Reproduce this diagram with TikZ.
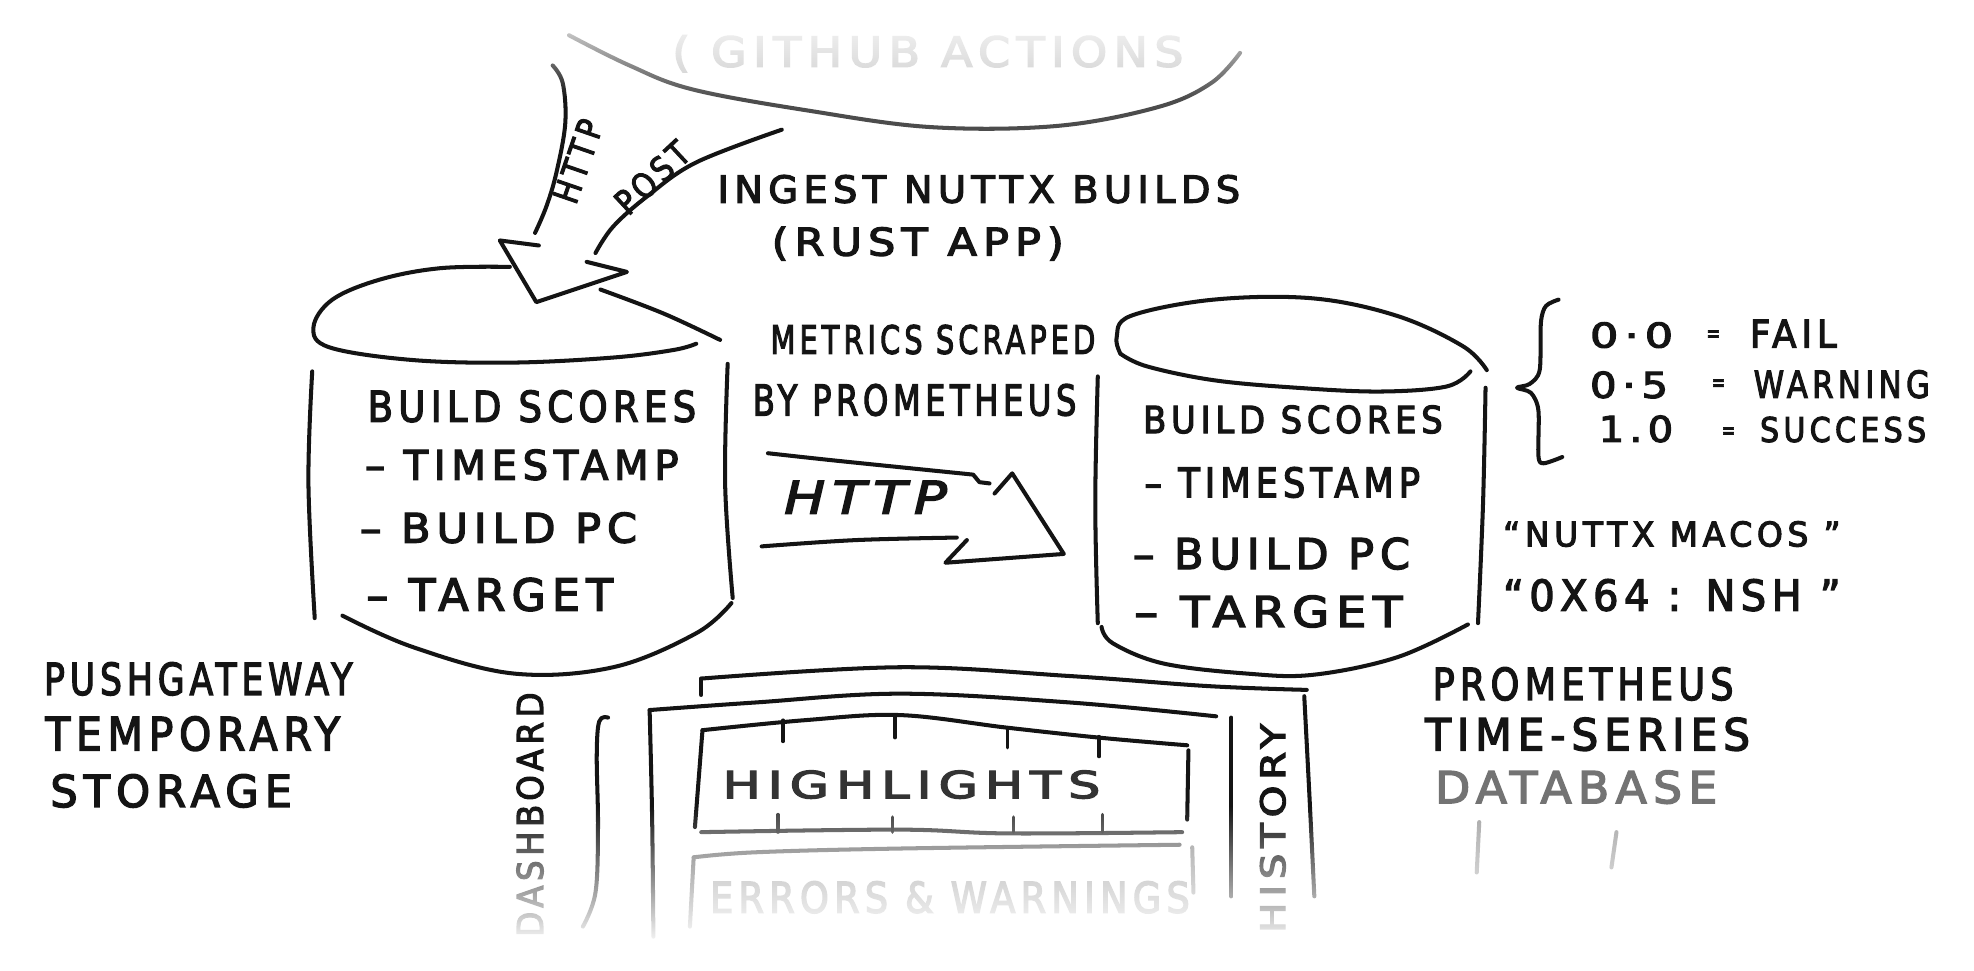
\documentclass[tikz,border=0pt]{standalone}
\usepackage{fontspec}
\usepackage{graphicx}
\usetikzlibrary{fadings}
\newfontfamily\hwf[LetterSpace=14, FakeBold=3.2]{DejaVu Sans}
\newcommand\hw[3]{\resizebox{#1pt}{#2pt}{\hwf #3}}
\definecolor{ink}{HTML}{141414}
\begin{document}
\begin{tikzpicture}[x=1pt,y=-1pt,
  sk/.style={line width=3.2pt, line cap=round, line join=round, draw=ink},
  txt/.style={inner sep=0pt, outer sep=0pt, anchor=base west, text=ink},
  rtxt/.style={inner sep=0pt, outer sep=0pt, anchor=center, text=ink}]
\useasboundingbox (0,0) rectangle (1568,771);
\clip (0,0) rectangle (1568,771);
\fill[white] (0,0) rectangle (1568,771);

% ---------- cloud (GitHub Actions) ----------
\draw[sk, draw=black!70] plot[smooth, tension=0.6] coordinates {(452,28) (500,52) (550,71) (643,88) (740,101) (840,100) (920,85) (962,66) (985,42)};
\node[txt, text=black!20] (gha) at (534,53) {\hw{406}{25}{( GITHUB ACTIONS}};

% ---------- HTTP POST block arrow ----------
\draw[sk] plot[smooth, tension=0.6] coordinates {(439,52) (447,66) (449,98) (442,137) (434,164) (425,185)};
\draw[sk] plot[smooth, tension=0.6] coordinates {(473,201) (487,180) (514,156) (553,129) (621,103)};
\draw[sk] (428,195) -- (397,191) -- (426,240) -- (498,216) -- (466,208);
\node[rtxt, rotate=71] (httpA) at (459,128) {\hw{68}{20}{HTTP}};
\node[rtxt, rotate=43] (postA) at (518,141) {\hw{70}{20}{POST}};

\node[txt] (ingest) at (570,161) {\hw{415}{22}{INGEST NUTTX BUILDS}};
\node[txt] (rust) at (613,203) {\hw{232}{23}{(RUST APP)}};

% ---------- left cylinder (Pushgateway) ----------
\draw[sk] plot[smooth, tension=0.6] coordinates {(405,212) (350,213) (302,222) (264,238) (249,260) (262,276) (328,286) (408,288) (487,284) (535,278) (553,273)};
\draw[sk] plot[smooth, tension=0.6] coordinates {(477,230) (527,249) (572,270)};
\draw[sk] plot[smooth, tension=0.6] coordinates {(248,295) (245,384) (250,491)};
\draw[sk] plot[smooth, tension=0.6] coordinates {(578,289) (576,385) (582,475)};
\draw[sk] plot[smooth, tension=0.6] coordinates {(272,489) (328,514) (408,535) (487,530) (553,503) (581,479)};
\node[txt] (lbs) at (292,335) {\hw{261}{25}{BUILD SCORES}};
\node[txt] (lts) at (290,381) {\hw{249}{24}{– TIMESTAMP}};
\node[txt] (lpc) at (286,431) {\hw{220}{24}{– BUILD PC}};
\node[txt] (ltg) at (291,485) {\hw{196}{26}{– TARGET}};

\node[txt] (pg1) at (35,552) {\hw{245}{26}{PUSHGATEWAY}};
\node[txt] (pg2) at (36,596) {\hw{234}{27}{TEMPORARY}};
\node[txt] (pg3) at (40,641) {\hw{192}{26}{STORAGE}};

% ---------- metrics scraped + HTTP arrow ----------
\node[txt] (ms1) at (612,281) {\hw{258}{23}{METRICS SCRAPED}};
\node[txt] (ms2) at (598,330) {\hw{257}{25}{BY PROMETHEUS}};
\draw[sk] plot[smooth, tension=0.6] coordinates {(610,360) (665,366) (773,377)} -- (778,383) -- (786,384);
\draw[sk] (790,392) -- (804,376) -- (845,440) -- (751,447) -- (768,429);
\draw[sk] plot[smooth, tension=0.6] coordinates {(605,434) (680,429) (760,427)};
\node[txt] (httpB) at (623,408) {\resizebox{129pt}{26pt}{\hwf\itshape HTTP}};

% ---------- right cylinder (Prometheus) ----------
\draw[sk] plot[smooth, tension=0.6] coordinates {(890,281) (887,268) (898,251) (964,238) (1043,237) (1110,251) (1162,275) (1181,294)};
\draw[sk] plot[smooth, tension=0.6] coordinates {(1168,295) (1149,307) (1096,311) (1030,308) (964,302) (911,291) (890,281)};
\draw[sk] plot[smooth, tension=0.6] coordinates {(872,299) (870,400) (872,495)};
\draw[sk] plot[smooth, tension=0.6] coordinates {(1180,308) (1178,400) (1174,495)};
\draw[sk] plot[smooth, tension=0.6] coordinates {(875,498) (884,511) (924,527) (990,535) (1043,536) (1110,522) (1166,496)};
\node[txt] (rbs) at (908,344) {\hw{238}{22}{BUILD SCORES}};
\node[txt] (rts) at (909,395) {\hw{219}{24}{– TIMESTAMP}};
\node[txt] (rpc) at (900,452) {\hw{220}{25}{– BUILD PC}};
\node[txt] (rtg) at (901,498) {\hw{213}{25}{– TARGET}};

\node[txt] (pr1) at (1138,556) {\hw{239}{26}{PROMETHEUS}};
\node[txt] (pr2) at (1132,596) {\hw{258}{26}{TIME-SERIES}};
\node[txt, text=black!55] (pr3) at (1140,638) {\hw{224}{26}{DATABASE}};
\draw[sk, draw=black!35] (1175,653) -- (1173,693);
\draw[sk, draw=black!35] (1284,661) -- (1280,689);

% ---------- brace + score values ----------
\draw[sk] plot[smooth, tension=0.5] coordinates {(1238,238) (1228,243) (1224,256) (1223,294) (1215,305) (1205,308) (1216,312) (1222,326) (1222,362) (1226,368) (1241,363)};
\node[txt] (v1) at (1263,276) {\hw{66}{20}{0·0}};
\node[rtxt] (e1) at (1361,267) {\resizebox{11pt}{9pt}{\hwf =}};
\node[txt] (w1) at (1390,276) {\hw{69}{22}{FAIL}};
\node[txt] (v2) at (1263,316) {\hw{62}{21}{0·5}};
\node[rtxt] (e2) at (1365,306) {\resizebox{11pt}{9pt}{\hwf =}};
\node[txt] (w2) at (1393,316) {\hw{140}{22}{WARNING}};
\node[txt] (v3) at (1270,351) {\hw{59}{21}{1.0}};
\node[rtxt] (e3) at (1373,344) {\resizebox{11pt}{9pt}{\hwf =}};
\node[txt] (w3) at (1398,351) {\hw{132}{20}{SUCCESS}};

\node[txt] (q1) at (1194,434) {\hw{268}{20}{“NUTTX MACOS ”}};
\node[txt] (q2) at (1194,485) {\hw{268}{25}{“0X64 : NSH ”}};

% ---------- dashboard ----------
\draw[sk] (557,552) -- (557,539);
\draw[sk] plot[smooth, tension=0.6] coordinates {(557,539) (715,530) (850,537) (960,545) (1038,548)};
\draw[sk] plot[smooth, tension=0.6] coordinates {(1036,553) (1040,630) (1044,712)};
\draw[sk] plot[smooth, tension=0.6] coordinates {(516,564) (600,558) (715,551) (850,558) (966,569)};
\draw[sk] plot[smooth, tension=0.6] coordinates {(516,564) (518,650) (519,744)};
\draw[sk] plot[smooth, tension=0.6] coordinates {(978,570) (978,640) (978,712)};
\draw[sk] plot[smooth, tension=0.6] coordinates {(483,570) (476,573) (474,600) (475,657) (473,709) (463,736)};
\node[rtxt, rotate=90] (dash) at (421,647) {\hw{194}{21}{DASHBOARD}};
\node[rtxt, rotate=90] (hist) at (1011,658) {\hw{166}{20}{HISTORY}};

\draw[sk] plot[smooth, tension=0.6] coordinates {(558,580) (640,572) (715,568) (800,578) (874,586) (943,592)};
\draw[sk] (558,580) -- (552,657);
\draw[sk] (944,596) -- (943,651);
\draw[sk, draw=black!70] plot[smooth, tension=0.6] coordinates {(557,661) (715,659) (800,662) (939,661)};
\foreach \xa/\ya/\yb in {622/572/589, 711/569/586, 800/578/594, 873/585/601}
  \draw[sk, line width=2.6pt] (\xa,\ya) -- (\xa,\yb);
\foreach \xa/\ya/\yb in {618/647/661, 709/649/661, 805/649/661, 876/647/661}
  \draw[sk, line width=2.6pt, draw=black!75] (\xa,\ya) -- (\xa,\yb);
\node[txt, text=black!80] (hl) at (574,634) {\hw{300}{22}{HIGHLIGHTS}};

\draw[sk, draw=black!55] plot[smooth, tension=0.6] coordinates {(551,681) (600,677) (715,674) (937,671)};
\draw[sk, draw=black!55] (551,681) -- (548,736);
\draw[sk, draw=black!40] (947,673) -- (948,709);
\node[txt, text=black!35] (ew) at (564,725) {\hw{381}{25}{ERRORS \& WARNINGS}};

% ---------- fades ----------
\fill[white, path fading=south] (0,0) rectangle (1568,78);
\fill[white, path fading=north] (0,640) rectangle (1568,752);
\fill[white] (0,751) rectangle (1568,771);
\end{tikzpicture}
\end{document}
